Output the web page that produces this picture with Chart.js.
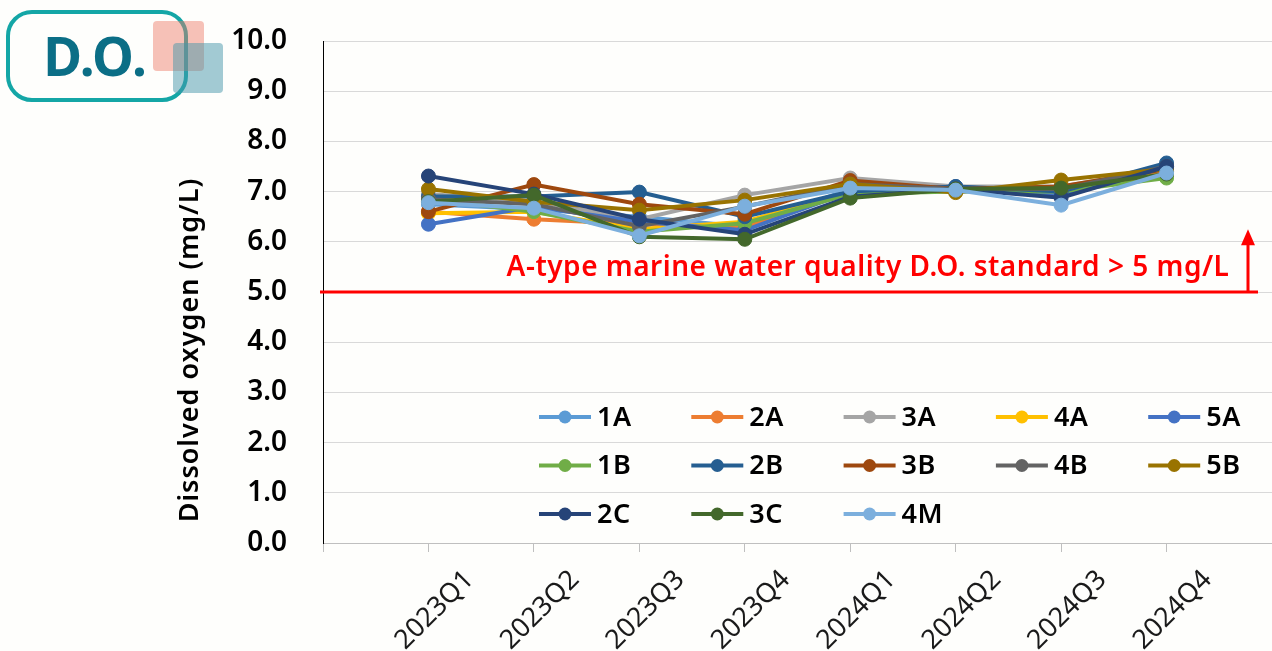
<!DOCTYPE html>
<html>
<head>
<meta charset="utf-8">
<title>D.O.</title>
<script src="https://cdn.jsdelivr.net/npm/chart.js@4.4.1/dist/chart.umd.min.js"></script>
<style>
  html, body { margin: 0; padding: 0; background: #fefefc; overflow: hidden; }
  canvas { display: block; }
</style>
</head>
<body>
<canvas id="c" width="1280" height="651"></canvas>
<script>
// Sampling quarters
const quarters = ['2023Q1', '2023Q2', '2023Q3', '2023Q4', '2024Q1', '2024Q2', '2024Q3', '2024Q4'];

// Dissolved oxygen (mg/L) per station
const do1A = [6.75, 6.65, 6.50, 6.30, 7.05, 7.05, 6.95, 7.40];
const do2A = [6.60, 6.45, 6.35, 6.30, 7.00, 7.05, 6.95, 7.40];
const do3A = [6.95, 6.80, 6.45, 6.93, 7.27, 7.10, 7.10, 7.45];
const do4A = [6.57, 6.60, 6.25, 6.40, 7.00, 7.05, 7.05, 7.35];
const do5A = [6.35, 6.70, 6.40, 6.23, 7.00, 7.10, 6.95, 7.50];
const do1B = [6.85, 6.60, 6.20, 6.37, 6.95, 7.00, 7.00, 7.27];
const do2B = [6.90, 6.90, 6.99, 6.50, 7.00, 7.10, 7.00, 7.57];
const do3B = [6.60, 7.14, 6.75, 6.55, 7.22, 7.05, 7.10, 7.45];
const do4B = [6.85, 6.75, 6.31, 6.70, 7.15, 7.05, 7.05, 7.50];
const do5B = [7.05, 6.80, 6.63, 6.83, 7.15, 6.98, 7.23, 7.45];
const do2C = [7.31, 6.95, 6.45, 6.15, 6.90, 7.05, 6.88, 7.50];
const do3C = [6.80, 6.93, 6.10, 6.05, 6.87, 7.05, 7.07, 7.35];
const do4M = [6.78, 6.67, 6.12, 6.71, 7.07, 7.03, 6.73, 7.37];

const stations = ['1A', '2A', '3A', '4A', '5A', '1B', '2B', '3B', '4B', '5B', '2C', '3C', '4M'];
const stationValues = [do1A, do2A, do3A, do4A, do5A, do1B, do2B, do3B, do4B, do5B, do2C, do3C, do4M];
const stationColors = ['#5B9BD5', '#ED7D31', '#A5A5A5', '#FFC000', '#4472C4', '#70AD47', '#255E91',
                       '#9E480E', '#636363', '#997300', '#264478', '#43682B', '#7CAFDD'];

// Y axis range and the class-A marine water quality limit
const yMin = 0, yMax = 10, yStep = 1;
const standardDO = 5;
const standardText = 'A-type marine water quality D.O. standard > 5 mg/L';
const yTitle = 'Dissolved oxygen (mg/L)';

const FONT = '"Noto Sans", "Open Sans", sans-serif';

// The category axis keeps an empty slot on each side of the quarters
const axisLabels = [''].concat(quarters, ['']);

const datasets = stations.map((name, i) => ({
  label: name,
  data: [null].concat(stationValues[i], [null]),
  borderColor: stationColors[i],
  backgroundColor: stationColors[i],
  pointBackgroundColor: stationColors[i],
  pointBorderColor: stationColors[i],
  borderWidth: 4,
  pointRadius: 7,
  pointBorderWidth: 1,
  pointHoverRadius: 7,
  tension: 0,
  spanGaps: false,
  order: stations.length - i
}));

// Extra drawing: standard line + arrow + note, in-plot legend, axis title, D.O. badge
const decorations = {
  id: 'decorations',
  afterDatasetsDraw(chart) {
    const ctx = chart.ctx;
    const ys = chart.scales.y;
    const area = chart.chartArea;
    const yStd = ys.getPixelForValue(standardDO);
    ctx.save();
    // standard line
    ctx.strokeStyle = '#ff0000';
    ctx.lineWidth = 3;
    ctx.beginPath();
    ctx.moveTo(area.left - 3, yStd);
    ctx.lineTo(1258, yStd);
    ctx.stroke();
    // arrow pointing up
    const ax = 1248;
    const tip = ys.getPixelForValue(standardDO + 1.25);
    ctx.beginPath();
    ctx.moveTo(ax, yStd);
    ctx.lineTo(ax, tip + 14);
    ctx.stroke();
    ctx.fillStyle = '#ff0000';
    ctx.beginPath();
    ctx.moveTo(ax, tip);
    ctx.lineTo(ax - 7, tip + 16);
    ctx.lineTo(ax + 7, tip + 16);
    ctx.closePath();
    ctx.fill();
    // note text
    ctx.font = '600 28px ' + FONT;
    ctx.letterSpacing = '0.5px';
    ctx.textAlign = 'center';
    ctx.textBaseline = 'middle';
    ctx.fillText(standardText, 868, yStd - 24);
    ctx.restore();
  },
  afterDraw(chart) {
    const ctx = chart.ctx;
    ctx.save();
    // legend, 5 columns x 3 rows inside the plot
    ctx.font = '600 27px ' + FONT;
    ctx.letterSpacing = '0.5px';
    ctx.textBaseline = 'middle';
    ctx.textAlign = 'left';
    stations.forEach((name, i) => {
      const col = i % 5, row = Math.floor(i / 5);
      const x0 = 539 + col * 152.3;
      const y = 417 + row * 48.5;
      ctx.strokeStyle = stationColors[i];
      ctx.fillStyle = stationColors[i];
      ctx.lineWidth = 4;
      ctx.beginPath();
      ctx.moveTo(x0, y);
      ctx.lineTo(x0 + 52, y);
      ctx.stroke();
      ctx.beginPath();
      ctx.arc(x0 + 26, y, 6.5, 0, Math.PI * 2);
      ctx.fill();
      ctx.fillStyle = '#000';
      ctx.fillText(name, x0 + 58, y + 1);
    });

    // y axis title
    ctx.save();
    ctx.translate(190, 350);
    ctx.rotate(-Math.PI / 2);
    ctx.font = '600 27px ' + FONT;
    ctx.letterSpacing = '1px';
    ctx.textAlign = 'center';
    ctx.textBaseline = 'middle';
    ctx.fillStyle = '#000';
    ctx.fillText(yTitle, 0, 0);
    ctx.restore();

    // D.O. badge
    ctx.letterSpacing = '0px';
    ctx.strokeStyle = '#14a6a6';
    ctx.lineWidth = 4;
    ctx.beginPath();
    ctx.roundRect(8, 12, 178, 88, 24);
    ctx.stroke();
    ctx.fillStyle = '#0b6e86';
    ctx.font = 'bold 53px ' + FONT;
    ctx.textAlign = 'center';
    ctx.textBaseline = 'alphabetic';
    ctx.fillText('D.O.', 95, 76);
    ctx.fillStyle = 'rgba(238, 120, 100, 0.45)';
    ctx.beginPath();
    ctx.roundRect(153, 21, 51, 50, 4);
    ctx.fill();
    ctx.fillStyle = 'rgba(70, 150, 170, 0.5)';
    ctx.beginPath();
    ctx.roundRect(173, 43, 50, 50, 4);
    ctx.fill();
    ctx.restore();
  }
};

new Chart(document.getElementById('c'), {
  type: 'line',
  data: { labels: axisLabels, datasets },
  options: {
    responsive: false,
    animation: false,
    devicePixelRatio: 1,
    layout: { padding: { top: 41, right: 0, left: 0, bottom: 0 } },
    plugins: {
      legend: { display: false },
      tooltip: { enabled: false }
    },
    scales: {
      x: {
        type: 'category',
        offset: false,
        grid: { drawOnChartArea: false, drawTicks: true, tickLength: 9, color: '#bfbfbf', lineWidth: 1 },
        border: { color: '#bfbfbf', width: 1 },
        ticks: {
          autoSkip: false,
          maxRotation: 45,
          minRotation: 45,
          color: '#1a1a1a',
          padding: 12,
          labelOffset: 41,
          font: { family: FONT, size: 27 }
        },
        afterFit(scale) {
          scale.height = 108;
          scale.paddingLeft = 0;
          scale.paddingRight = 0;
        }
      },
      y: {
        min: yMin,
        max: yMax,
        grid: { color: '#d9d9d9', lineWidth: 1, drawTicks: false },
        border: { color: '#000000', width: 1 },
        ticks: {
          stepSize: yStep,
          padding: 36,
          color: '#000',
          font: { family: FONT, size: 28, weight: '600' },
          callback: v => Number(v).toFixed(1)
        },
        afterFit(scale) {
          scale.width = 323;
          scale.paddingTop = 0;
          scale.paddingBottom = 0;
        }
      }
    }
  },
  plugins: [decorations]
});
</script>
</body>
</html>
